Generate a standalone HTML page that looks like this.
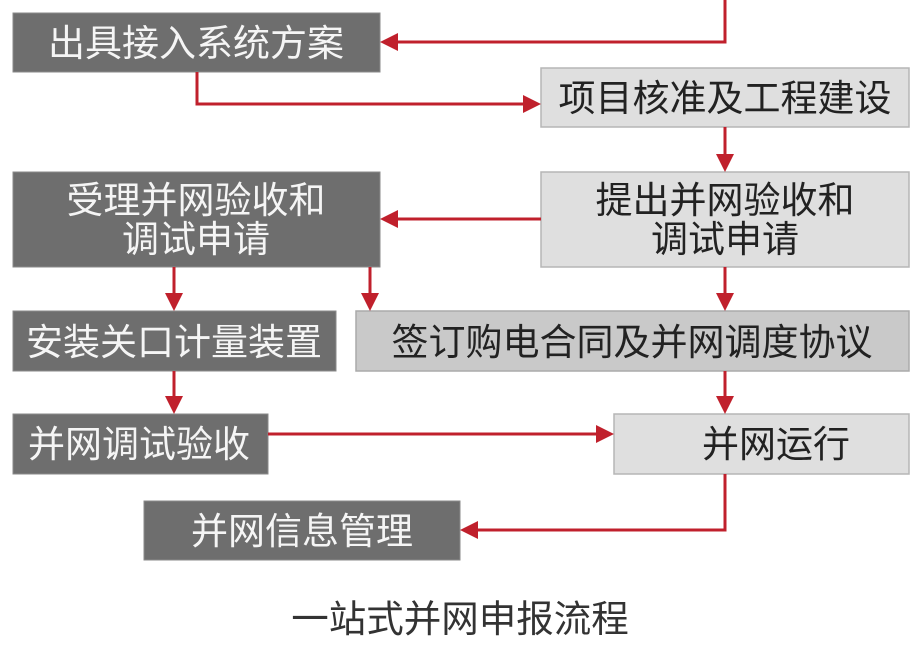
<!DOCTYPE html>
<html><head><meta charset="utf-8"><style>
html,body{margin:0;padding:0;background:#fff;width:916px;height:658px;overflow:hidden}
svg{display:block}
text{font-family:"Liberation Sans","Noto Sans CJK SC",sans-serif;font-size:37px}
.d{fill:#6e6e6e;stroke:#8a8a8a;stroke-width:1}
.l{fill:#dfdfdf;stroke:#b5b5b5;stroke-width:1.5}
.m{fill:#c9c9c9;stroke:#aaa;stroke-width:1.5}
.wt{fill:#f5f5f5}
.bt{fill:#222}
.ln{stroke:#c0202c;stroke-width:3;fill:none}
.ah{fill:#c0202c}
</style></head><body>
<svg width="916" height="658" viewBox="0 0 916 658">
<rect class="d" x="13" y="13" width="367" height="59"/>
<rect class="l" x="541" y="68" width="368" height="59"/>
<rect class="d" x="13" y="172" width="367" height="95"/>
<rect class="l" x="541" y="172" width="368" height="95"/>
<rect class="d" x="13" y="311" width="323" height="60"/>
<rect class="m" x="356" y="311" width="553" height="60"/>
<rect class="d" x="13" y="414" width="255" height="60"/>
<rect class="l" x="614" y="414" width="295" height="60"/>
<rect class="d" x="144" y="501" width="316" height="59"/>
<text class="wt" x="196" y="56" text-anchor="middle">出具接入系统方案</text>
<text class="bt" x="725" y="111" text-anchor="middle">项目核准及工程建设</text>
<text class="wt" x="196" y="213" text-anchor="middle">受理并网验收和</text>
<text class="wt" x="196" y="252" text-anchor="middle">调试申请</text>
<text class="bt" x="725" y="213" text-anchor="middle">提出并网验收和</text>
<text class="bt" x="725" y="252" text-anchor="middle">调试申请</text>
<text class="wt" x="174" y="355" text-anchor="middle">安装关口计量装置</text>
<text class="bt" x="632" y="355" text-anchor="middle">签订购电合同及并网调度协议</text>
<text class="wt" x="139" y="457" text-anchor="middle">并网调试验收</text>
<text class="bt" x="776" y="457" text-anchor="middle">并网运行</text>
<text class="wt" x="302" y="544" text-anchor="middle">并网信息管理</text>
<text x="460" y="632" text-anchor="middle" style="font-size:37.5px;fill:#333">一站式并网申报流程</text>
<polyline class="ln" points="725,0 725,42 396,42"/>
<polygon class="ah" points="380,42 398,33 398,51"/>
<polyline class="ln" points="197,72 197,104 525,104"/>
<polygon class="ah" points="541,104 523,95 523,113"/>
<line class="ln" x1="725" y1="127" x2="725" y2="156"/>
<polygon class="ah" points="725,172 716,154 734,154"/>
<line class="ln" x1="541" y1="219" x2="396" y2="219"/>
<polygon class="ah" points="380,219 398,210 398,228"/>
<line class="ln" x1="174" y1="267" x2="174" y2="295"/>
<polygon class="ah" points="174,311 165,293 183,293"/>
<line class="ln" x1="370" y1="267" x2="370" y2="295"/>
<polygon class="ah" points="370,311 361,293 379,293"/>
<line class="ln" x1="725" y1="267" x2="725" y2="295"/>
<polygon class="ah" points="725,311 716,293 734,293"/>
<line class="ln" x1="174" y1="371" x2="174" y2="398"/>
<polygon class="ah" points="174,414 165,396 183,396"/>
<line class="ln" x1="725" y1="371" x2="725" y2="398"/>
<polygon class="ah" points="725,414 716,396 734,396"/>
<line class="ln" x1="268" y1="434" x2="598" y2="434"/>
<polygon class="ah" points="614,434 596,425 596,443"/>
<polyline class="ln" points="725,474 725,530 476,530"/>
<polygon class="ah" points="460,530 478,521 478,539"/>
</svg>
</body></html>
